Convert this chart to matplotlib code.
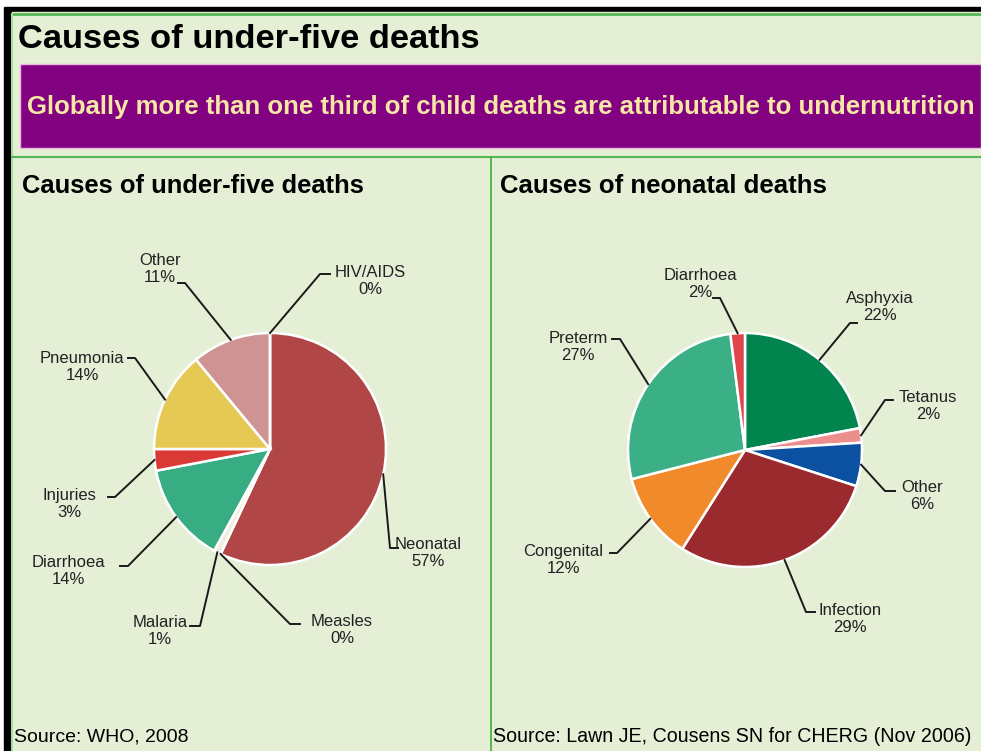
import matplotlib.pyplot as plt
import numpy as np
from matplotlib.patches import Rectangle

plt.rcParams['font.family'] = ['Liberation Sans', 'DejaVu Sans']

W, H = 981, 751

# under-five causes, clockwise from 12 o'clock
u5_labels = ['Neonatal', 'Measles', 'Malaria', 'Diarrhoea', 'Injuries',
             'Pneumonia', 'Other', 'HIV/AIDS']
u5_values = [57, 0, 1, 14, 3, 14, 11, 0]
u5_colors = ['#b04646', '#e8e0d0', '#f2ece0', '#38ad84', '#da3a36',
             '#e6c955', '#cf9394', '#cccccc']

# neonatal causes, clockwise from 12 o'clock
nn_labels = ['Asphyxia', 'Tetanus', 'Other', 'Infection', 'Congenital',
             'Preterm', 'Diarrhoea']
nn_values = [22, 2, 6, 29, 12, 27, 2]
nn_colors = ['#02844f', '#ec8e8c', '#0c50a2', '#9b2a2e', '#f08a2a',
             '#3bb086', '#e0474c']

fig = plt.figure(figsize=(W / 100, H / 100), dpi=100)
fig.patch.set_facecolor('white')
ax = fig.add_axes([0, 0, 1, 1])
ax.set_xlim(0, W)
ax.set_ylim(0, H)
ax.axis('off')


def Y(y):
    return H - y


# frame
ax.add_patch(Rectangle((4, 0), W, Y(7), color='black', zorder=0))
ax.add_patch(Rectangle((12, 0), W, Y(12), color='#e4efd6', zorder=0))
ax.plot([12, W], [Y(14), Y(14)], color='#55b855', lw=2, zorder=1)
ax.plot([12, 12], [0, Y(14)], color='#9fe09f', lw=1.5, zorder=1)
ax.plot([12, W], [Y(157), Y(157)], color='#55b855', lw=1.5, zorder=1)
ax.plot([491, 491], [0, Y(157)], color='#3cae3c', lw=1.2, zorder=1)

# banner
ax.add_patch(Rectangle((20, Y(148)), W - 20, 84, facecolor='#810181',
                       edgecolor='#e8b8e0', lw=1, zorder=1))

ax.text(18, Y(40), 'Causes of under-five deaths', fontsize=24.8,
        fontweight='bold', color='black', va='center', ha='left')
ax.text(27, Y(107), 'Globally more than one third of child deaths are '
        'attributable to undernutrition', fontsize=18.5, fontweight='bold',
        color='#f6e7a4', va='center', ha='left')
ax.text(22, Y(186), 'Causes of under-five deaths', fontsize=18.4,
        fontweight='bold', va='center', ha='left')
ax.text(500, Y(186), 'Causes of neonatal deaths', fontsize=18.5,
        fontweight='bold', va='center', ha='left')
ax.text(14, Y(737), 'Source: WHO, 2008', fontsize=14, va='center', ha='left')
ax.text(493, Y(737), 'Source: Lawn JE, Cousens SN for CHERG (Nov 2006)',
        fontsize=14.1, va='center', ha='left')


def draw_pie(cx, cy, r, values, colors, labels, layout):
    ax.pie(values, colors=colors, startangle=90, counterclock=False,
           center=(cx, Y(cy)), radius=r,
           wedgeprops=dict(edgecolor='white', linewidth=1.8))
    total = float(sum(values))
    cum = np.cumsum([0] + list(values)) / total
    for i, name in enumerate(labels):
        mid = (cum[i] + cum[i + 1]) / 2
        ang = np.deg2rad(90 - 360 * mid)
        axp = cx + r * np.cos(ang)
        ayp = Y(cy) + r * np.sin(ang)
        tx, ty, ex, ey, fx = layout[name]
        ax.plot([axp, ex, fx], [ayp, Y(ey), Y(ey)], color='#1a1a1a', lw=1.4,
                zorder=5)
        pct = '%d%%' % round(values[i] / total * 100)
        ax.text(tx, Y(ty), name + '\n' + pct, fontsize=12, ha='center',
                va='center', linespacing=1.15, color='#222222')


# label text centre (x, y), elbow point (x, y), stub end x
u5_layout = {
    'Other': (160, 269, 185, 283, 178),
    'HIV/AIDS': (370, 281, 320, 274, 330),
    'Pneumonia': (82, 367, 135, 358, 128),
    'Injuries': (69, 504, 115, 497, 108),
    'Diarrhoea': (68, 571, 128, 566, 120),
    'Malaria': (160, 631, 200, 626, 190),
    'Measles': (342, 630, 290, 624, 300),
    'Neonatal': (428, 553, 390, 548, 398),
}
nn_layout = {
    'Diarrhoea': (700, 284, 720, 298, 713),
    'Asphyxia': (880, 307, 850, 323, 857),
    'Tetanus': (928, 406, 885, 400, 893),
    'Other': (922, 496, 885, 491, 895),
    'Infection': (850, 619, 806, 612, 815),
    'Congenital': (563, 560, 617, 553, 610),
    'Preterm': (578, 347, 620, 339, 612),
}

draw_pie(270, 449, 116, u5_values, u5_colors, u5_labels, u5_layout)
draw_pie(745, 450, 117, nn_values, nn_colors, nn_labels, nn_layout)

ax.set_xlim(0, W)
ax.set_ylim(0, H)
ax.set_aspect('auto')

fig.savefig('out.png', dpi=100, facecolor=fig.get_facecolor())
